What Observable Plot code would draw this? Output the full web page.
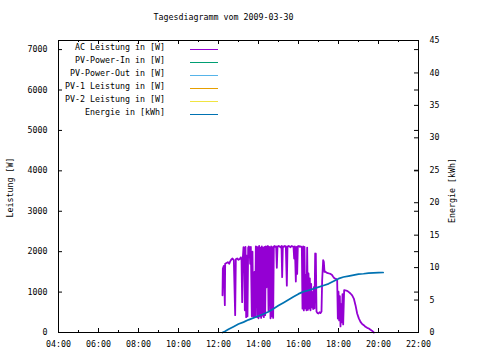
<!DOCTYPE html>
<html><head><meta charset="utf-8">
<script src="https://cdn.jsdelivr.net/npm/d3@7"></script>
<script src="https://cdn.jsdelivr.net/npm/@observablehq/plot@0.6"></script>
<style>
body{margin:0;background:#fff;}
#wrap{position:relative;width:480px;height:360px;font-family:"DejaVu Sans Mono",monospace;font-size:8.3px;color:#000;overflow:hidden;}
#title{position:absolute;left:0;width:447px;text-align:center;top:12px;line-height:11px;white-space:pre;}
#chart{position:absolute;left:0;top:32px;}
.lgt{position:absolute;line-height:11px;white-space:pre;text-align:right;}
.lgl{position:absolute;height:0;}
</style></head><body>
<div id="wrap"><div id="title"></div><div id="chart"></div><div id="legend"></div></div>
<script>
const title = "Tagesdiagramm vom 2009-03-30";
const yLabelLeft = "Leistung [W]";
const yLabelRight = "Energie [kWh]";
const seriesNames = ["AC Leistung in [W]", "PV-Power-In in [W]", "PV-Power-Out in [W]", "PV-1 Leistung in [W]", "PV-2 Leistung in [W]", "Energie in [kWh]"];
const seriesColors = ["#9400d3", "#009e73", "#56b4e9", "#e69f00", "#f0e442", "#0072b2"];

const xTickLabels = ["04:00","06:00","08:00","10:00","12:00","14:00","16:00","18:00","20:00","22:00"];
const xMinorLabels = ["05:00","07:00","09:00","11:00","13:00","15:00","17:00","19:00","21:00"];
const leftTicks = [0,1000,2000,3000,4000,5000,6000,7000];
const rightTicks = [0,5,10,15,20,25,30,35,40,45];
const leftMax = 7225;
const rightMax = 45;

const acTimes = ["12:12","12:13","12:16","12:19","12:20","12:24","12:28","12:32","12:35","12:38","12:42","12:46","12:50","12:52","12:56","13:00","13:04","13:07","13:09","13:11","13:13","13:15","13:17","13:19","13:21","13:23","13:25","13:27","13:29","13:31","13:33","13:35","13:37","13:40","13:42","13:44","13:46","13:48","13:50","13:52","13:54","13:56","13:58","14:00","14:02","14:04","14:06","14:08","14:10","14:12","14:14","14:16","14:18","14:20","14:22","14:24","14:26","14:28","14:30","14:32","14:34","14:36","14:38","14:40","14:42","14:44","14:46","14:48","14:50","14:53","14:55","14:57","15:00","15:03","15:06","15:09","15:11","15:13","15:16","15:19","15:22","15:25","15:27","15:30","15:33","15:36","15:39","15:42","15:45","15:47","15:49","15:52","15:54","15:56","15:58","16:01","16:04","16:07","16:10","16:12","16:14","16:16","16:18","16:20","16:22","16:24","16:26","16:28","16:30","16:32","16:34","16:36","16:38","16:40","16:42","16:44","16:46","16:48","16:50","16:52","16:54","16:57","17:00","17:03","17:06","17:09","17:11","17:14","17:16","17:18","17:20","17:24","17:28","17:32","17:36","17:40","17:44","17:48","17:52","17:56","17:58","18:00","18:02","18:04","18:06","18:08","18:10","18:12","18:14","18:17","18:21","18:26","18:31","18:36","18:41","18:46","18:51","18:56","19:01","19:06","19:11","19:16","19:21","19:26","19:31","19:36","19:41","19:46"];
const acWatts = [920,1580,1650,675,1700,1720,1740,1700,1760,1800,1830,1790,430,1810,1830,1800,1820,1860,1820,750,1850,2110,2100,550,2120,380,1900,400,2100,2130,2100,1700,2120,400,2000,420,380,1500,400,2130,2120,380,2110,350,2140,400,2100,360,2130,420,2100,380,2120,430,2130,1120,2120,2140,545,2120,2100,350,2130,400,2110,360,2130,2140,2120,2130,1600,2120,2140,2130,2110,2140,1370,2130,2120,2140,2130,1160,2120,2140,2130,2110,2140,2130,2120,1830,2130,1260,2120,1450,2130,2140,2120,2130,2110,590,2130,545,2120,600,1420,550,2100,560,1460,600,1340,550,1200,620,1000,580,1120,600,1955,1950,520,480,470,500,480,520,1300,1790,1750,1500,1510,1480,1470,1460,1450,1430,1380,1340,1330,1300,345,1010,300,900,150,700,250,950,200,1050,1040,1030,1000,965,920,840,676,470,350,264,210,181,140,115,99,70,40,0];

const pvInTimes = [];
const pvInWatts = [];
const pvOutTimes = [];
const pvOutWatts = [];
const pv1Times = [];
const pv1Watts = [];
const pv2Times = [];
const pv2Watts = [];

const energyTimes = ["12:12","12:20","12:30","12:45","13:00","13:15","13:30","13:45","14:00","14:15","14:30","14:45","15:00","15:15","15:30","15:45","16:00","16:15","16:30","16:45","17:00","17:15","17:30","17:45","18:00","18:15","18:30","18:45","19:00","19:15","19:30","19:45","20:00","20:14"];
const energyKWh = [0,0.2,0.5,0.9,1.3,1.6,1.95,2.25,2.55,2.85,3.2,3.65,4.15,4.6,5.05,5.5,5.95,6.3,6.5,6.75,7.0,7.25,7.5,7.9,8.3,8.55,8.7,8.85,9.0,9.05,9.15,9.2,9.22,9.25];

const parse = t => new Date(Date.UTC(2009, 2, 30, +t.slice(0, 2), +t.slice(3, 5)));
const k = leftMax / rightMax;
const rows = (times, vals, f = 1) => times.map((t, i) => ({t: parse(t), v: vals[i] * f}));

const series = [
  rows(acTimes, acWatts),
  rows(pvInTimes, pvInWatts),
  rows(pvOutTimes, pvOutWatts),
  rows(pv1Times, pv1Watts),
  rows(pv2Times, pv2Watts),
  rows(energyTimes, energyKWh, k)
];

const W = 480, H = 328, mT = 8, mB = 28, mL = 58, mR = 62;
const fw = W - mL - mR, fh = H - mT - mB;
const major = 4, minor = 2;

const xMajor = xTickLabels.map(parse);
const xMinor = xMinorLabels.map(parse);
const yRight = rightTicks.map(e => e * k);
const tickStyle = {stroke: "#000", strokeWidth: 1};

const chart = Plot.plot({
  width: W, height: H,
  marginTop: mT, marginBottom: mB, marginLeft: mL, marginRight: mR,
  style: {fontFamily: "DejaVu Sans Mono, monospace", fontSize: "8.3px", color: "#000", background: "#fff", overflow: "visible"},
  x: {type: "utc", domain: [xMajor[0], xMajor[xMajor.length - 1]]},
  y: {domain: [0, leftMax]},
  marks: [
    Plot.axisX(xMajor, {anchor: "bottom", tickSize: 0, tickPadding: 9, tickFormat: d3.utcFormat("%H:%M"), label: null}),
    Plot.axisY(leftTicks, {anchor: "left", tickSize: 0, tickPadding: 11, tickFormat: d => String(d), label: null}),
    Plot.axisY(yRight, {anchor: "right", tickSize: 0, tickPadding: 11, tickFormat: d => String(Math.round(d / k)), label: null}),
    Plot.tickX(xMajor, {x: d => d, insetTop: fh - major, ...tickStyle}),
    Plot.tickX(xMajor, {x: d => d, insetBottom: fh - major, ...tickStyle}),
    Plot.tickX(xMinor, {x: d => d, insetTop: fh - minor, ...tickStyle}),
    Plot.tickX(xMinor, {x: d => d, insetBottom: fh - minor, ...tickStyle}),
    Plot.tickY(leftTicks, {y: d => d, insetRight: fw - major, ...tickStyle}),
    Plot.tickY(leftTicks, {y: d => d, insetLeft: fw - major, ...tickStyle}),
    Plot.tickY(yRight, {y: d => d, insetLeft: fw - major, ...tickStyle}),
    ...series.map((s, i) => Plot.line(s, {x: "t", y: "v", stroke: seriesColors[i], strokeWidth: i === 0 ? 1.8 : 1.7})),
    Plot.frame({stroke: "#000", strokeWidth: 1}),
    Plot.text([yLabelLeft], {frameAnchor: "left", textAnchor: "middle", dx: -48.5, dy: 1, rotate: -90}),
    Plot.text([yLabelRight], {frameAnchor: "right", textAnchor: "middle", dx: 34, dy: 4, rotate: -90})
  ]
});
document.getElementById("chart").appendChild(chart);
document.getElementById("title").textContent = title;

const legend = document.getElementById("legend");
seriesNames.forEach((name, i) => {
  const cy = 47 + 13 * i;
  const t = document.createElement("div");
  t.className = "lgt";
  t.style.right = (480 - 165) + "px";
  t.style.top = (cy - 5.5) + "px";
  t.textContent = name;
  legend.appendChild(t);
  const l = document.createElement("div");
  l.className = "lgl";
  l.style.left = "190px";
  l.style.width = "28px";
  l.style.top = (cy + 2) + "px";
  l.style.borderTop = "1px solid " + seriesColors[i];
  legend.appendChild(l);
});
</script>
</body></html>
